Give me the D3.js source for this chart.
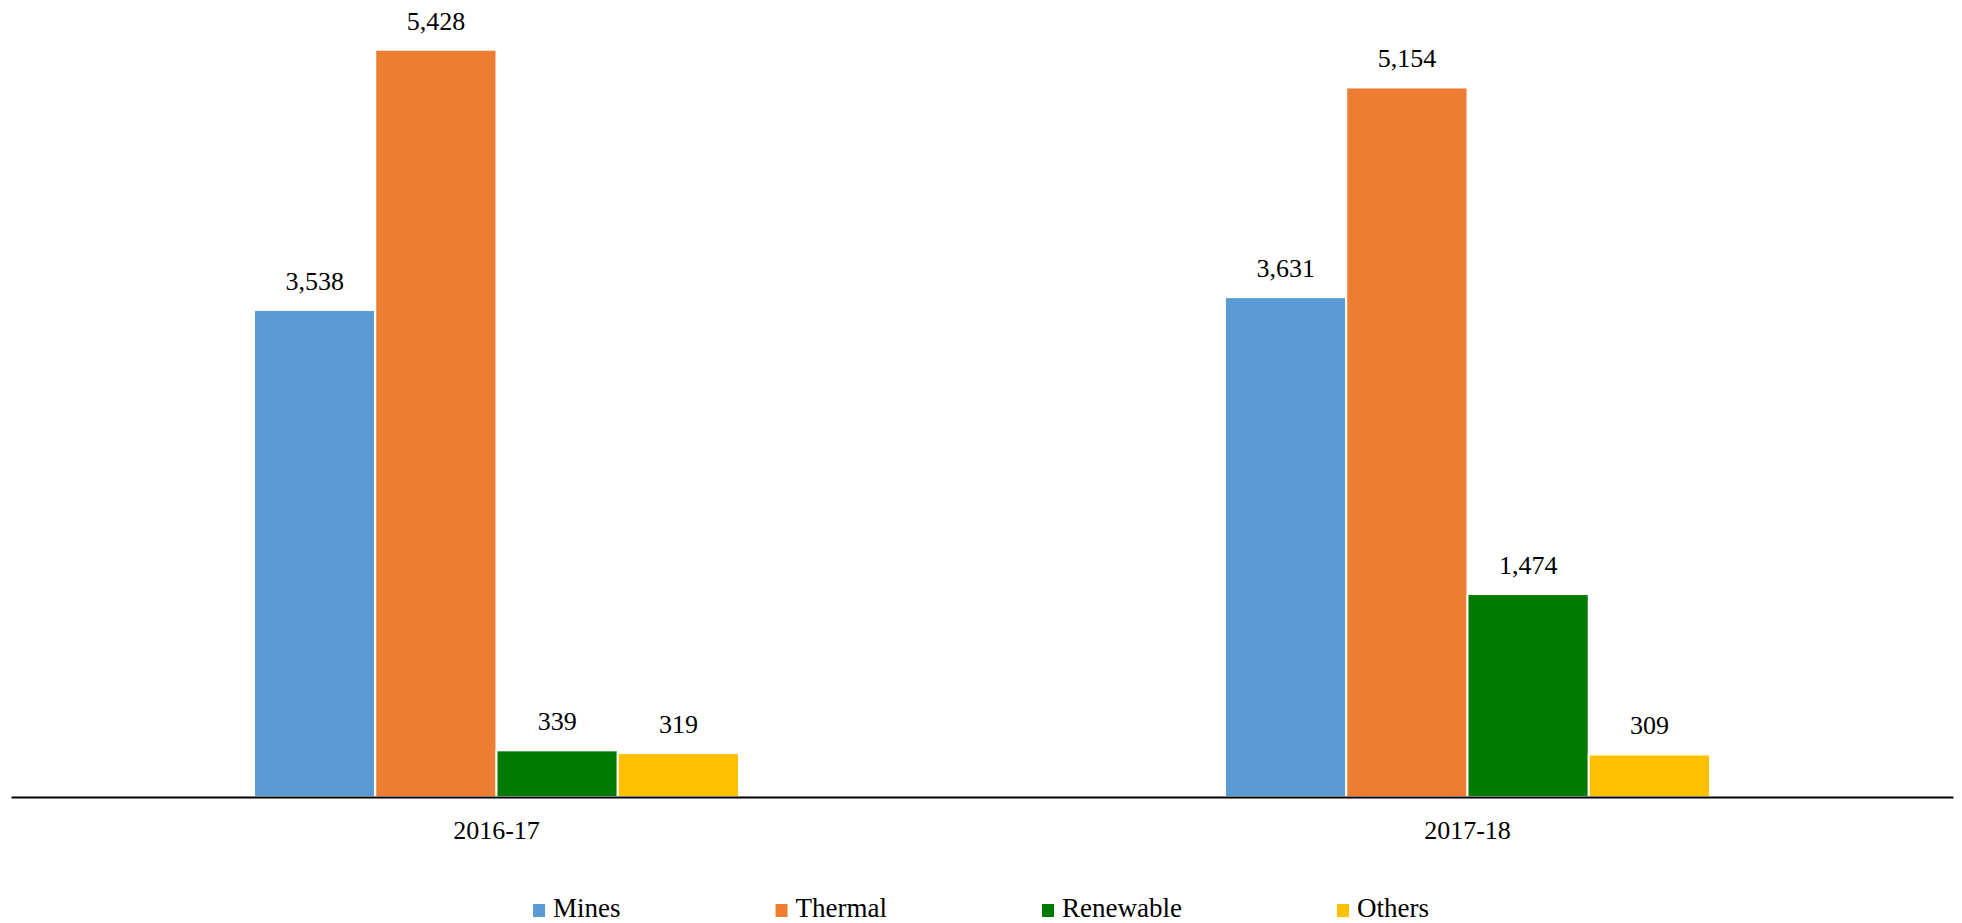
<!DOCTYPE html>
<html>
<head>
<meta charset="utf-8">
<script src="https://cdn.jsdelivr.net/npm/d3@7"></script>
<style>
  html, body { margin: 0; padding: 0; background: #ffffff; }
  svg { display: block; }
</style>
</head>
<body>
<svg id="chart" width="1962" height="923"></svg>
<script>
// ---- data ----
const categories = ["2016-17", "2017-18"];
const seriesNames = ["Mines", "Thermal", "Renewable", "Others"];
const mines = [3538, 3631];
const thermal = [5428, 5154];
const renewable = [339, 1474];
const others = [319, 309];
const seriesColors = ["#5B9BD5", "#ED7D31", "#007A00", "#FFC000"];
const yDomainMax = 6000;

const seriesValues = [mines, thermal, renewable, others];
const rows = categories.map((c, i) => ({
  category: c,
  values: seriesNames.map((s, j) => ({ series: s, value: seriesValues[j][i], color: seriesColors[j] }))
}));

// ---- layout ----
const FONT = "'Liberation Serif', Tinos, 'Times New Roman', 'DejaVu Serif', serif";
const W = 1962, H = 923;
const baseY = 797;
const svg = d3.select("#chart");

const x0 = d3.scaleBand().domain(categories).range([11, 1953]).paddingInner(0).paddingOuter(0);
const groupW = 485;
const x1 = d3.scaleBand().domain(seriesNames).range([-groupW / 2, groupW / 2]).padding(0);
const y = d3.scaleLinear().domain([0, yDomainMax]).range([baseY, baseY - yDomainMax * 0.13767]);
const fmt = d3.format(",");

const groups = svg.append("g").selectAll("g")
  .data(rows).join("g")
  .attr("transform", d => `translate(${x0(d.category) + x0.bandwidth() / 2},0)`);

groups.selectAll("rect")
  .data(d => d.values).join("rect")
  .attr("x", d => x1(d.series))
  .attr("width", x1.bandwidth())
  .attr("y", d => y(d.value))
  .attr("height", d => y(0) - y(d.value))
  .attr("fill", d => d.color)
  .attr("stroke", "#ffffff")
  .attr("stroke-width", 2);

groups.selectAll("text.val")
  .data(d => d.values).join("text")
  .attr("class", "val")
  .attr("x", d => x1(d.series) + x1.bandwidth() / 2)
  .attr("y", d => y(d.value) - 20)
  .attr("text-anchor", "middle")
  .style("font-family", FONT)
  .style("font-size", "26px")
  .style("fill", "#000")
  .text(d => fmt(d.value));

// ---- x axis ----
const xAxis = svg.append("g")
  .attr("transform", `translate(0,${baseY})`)
  .call(d3.axisBottom(x0).tickSize(0).tickSizeOuter(0).tickPadding(23.5));
xAxis.attr("font-family", null).attr("font-size", null);
xAxis.select(".domain").attr("stroke", "#000").attr("stroke-width", 2);
xAxis.selectAll("text")
  .style("font-family", FONT)
  .style("font-size", "26px")
  .style("fill", "#000");

// ---- legend ----
const legend = svg.append("g");
const items = legend.selectAll("g").data(seriesNames).join("g");
items.append("rect")
  .attr("x", 0).attr("y", 904)
  .attr("width", 12).attr("height", 13)
  .attr("fill", (d, i) => seriesColors[i]);
items.append("text")
  .attr("x", 20).attr("y", 917)
  .style("font-family", FONT)
  .style("font-size", "27px")
  .style("fill", "#000")
  .text(d => d);
const gap = 155;
const widths = [];
items.each(function () { widths.push(20 + d3.select(this).select("text").node().getComputedTextLength()); });
const total = d3.sum(widths) + gap * (widths.length - 1);
let cx = W / 2 - total / 2;
items.attr("transform", (d, i) => {
  const t = `translate(${cx},0)`;
  cx += widths[i] + gap;
  return t;
});
</script>
</body>
</html>
